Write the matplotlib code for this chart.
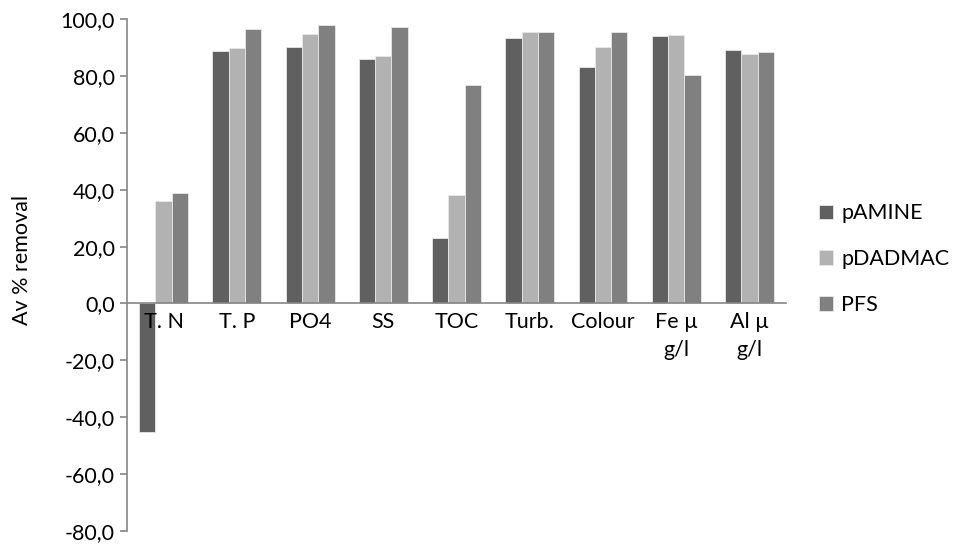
import numpy as np
import matplotlib
matplotlib.use("Agg")
import matplotlib.pyplot as plt
from matplotlib.ticker import FuncFormatter

plt.rcParams['font.family'] = ['Lato', 'DejaVu Sans']

# average removal per parameter for each coagulant
categories = ["T. N", "T. P", "PO4", "SS", "TOC", "Turb.", "Colour", "Fe µ\ng/l", "Al µ\ng/l"]
pamine = [-45.3, 88.9, 90.2, 85.8, 23.0, 93.4, 83.1, 93.9, 89.2]
pdadmac = [35.9, 89.8, 94.6, 87.2, 38.3, 95.4, 90.2, 94.5, 87.9]
pfs = [39.0, 96.4, 98.1, 97.2, 77.0, 95.3, 95.3, 80.5, 88.6]

series = ["pAMINE", "pDADMAC", "PFS"]
colors = ["#606060", "#b2b2b2", "#808080"]
fs = 15.5

fig = plt.figure(figsize=(9.72, 5.46), dpi=100)
ax = fig.add_axes([0.1307, 0.0275, 0.678, 0.9375])

x = np.arange(len(categories))
w = 0.223
for i, (vals, name, c) in enumerate(zip([pamine, pdadmac, pfs], series, colors)):
    ax.bar(x + (i - 1) * w, vals, w, color=c, edgecolor="#e8e8e8", linewidth=0.6, label=name)

ax.set_xlim(-0.5, len(categories) - 0.5)
ax.set_ylim(-80, 100)
ax.set_yticks(np.arange(-80, 101, 20))
ax.yaxis.set_major_formatter(FuncFormatter(lambda v, p: f"{v:.1f}".replace(".", ",")))

# category axis sits on the zero line
ax.spines['bottom'].set_position(('data', 0))
ax.spines['top'].set_visible(False)
ax.spines['right'].set_visible(False)
for s in ['bottom', 'left']:
    ax.spines[s].set_color("#868686")
    ax.spines[s].set_linewidth(1.2)
ax.set_xticks(x)
ax.set_xticklabels(categories, fontsize=fs, linespacing=1.5)
ax.tick_params(axis='x', length=0, pad=6)
ax.tick_params(axis='y', length=5, width=1.2, color="#868686", labelsize=fs, pad=4)

ax.set_ylabel("Av % removal", fontsize=fs)
ax.yaxis.set_label_coords(-0.144, 0.53)

leg = ax.legend(loc="center left", bbox_to_anchor=(1.02, 0.531), frameon=False,
                fontsize=fs, handlelength=0.65, handleheight=0.65,
                handletextpad=0.4, labelspacing=1.2)

fig.savefig("out.png", dpi=100)
